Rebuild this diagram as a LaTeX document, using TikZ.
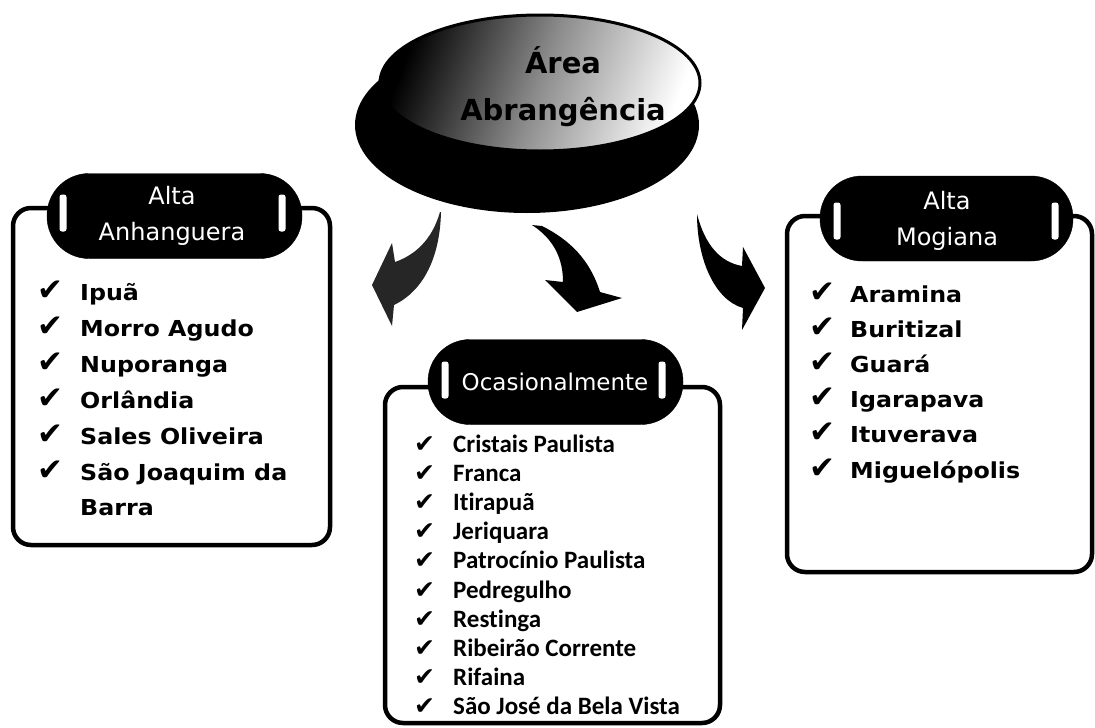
\documentclass[tikz,border=0pt]{standalone}
\usepackage{fontspec}
\setmainfont{DejaVu Sans}
\newfontfamily\hdfont{DejaVu Sans}
\newfontfamily\listfont[FakeStretch=1.08]{DejaVu Sans}
\newfontfamily\midfont[Ligatures=NoCommon]{Carlito}
\newfontfamily\chkfont{DejaVu Sans}
\begin{document}
\begin{tikzpicture}[x=1pt,y=-1pt,
  frame/.style={draw=black, line width=4.5pt, rounded corners=18pt, inner sep=0pt, outer sep=0pt},
  pill/.style={fill=black, draw=black, rounded corners=42pt, inner sep=0pt, minimum height=85pt},
  hdr/.style={text=white, font=\hdfont\fontsize{24}{36}\selectfont, align=center, inner sep=0pt},
  wbar/.style={fill=white, rounded corners=2.5pt, minimum width=7pt, minimum height=37pt, inner sep=0pt},
  item/.style={anchor=base west, inner sep=0pt, font=\listfont\bfseries\fontsize{22}{26}\selectfont},
  mitem/.style={anchor=base west, inner sep=0pt, font=\midfont\bfseries\fontsize{25}{28}\selectfont},
  ck/.style={anchor=base west, inner sep=0pt, font=\chkfont\fontsize{31}{34}\selectfont},
  mck/.style={anchor=base west, inner sep=0pt, font=\chkfont\fontsize{25}{28}\selectfont},
  blockarrow/.style={fill=black}
]
\useasboundingbox (0,0) rectangle (1095,728);
\fill[white] (0,0) rectangle (1095,728);

% ---- top disk ----
\fill[black] (527,125) ellipse [x radius=172, y radius=88];
\shade[left color=black, right color=white, middle color=black!45, shading angle=70]
  (540,83) ellipse [x radius=160, y radius=68];
\draw[black, line width=3pt] (540,83) ellipse [x radius=160, y radius=68];
\node[font=\hdfont\bfseries\fontsize{29}{47}\selectfont, align=center, text=black, inner sep=0pt]
  (title) at (563,87) {Área\\Abrangência};

% ---- arrows ----
\fill[blockarrow, black!85] (440,212) .. controls (432,240) and (415,255) .. (395,262)
  -- (392,243) -- (372,285) -- (392,326) -- (394,305)
  .. controls (425,290) and (440,255) .. (441,212) -- cycle;
\fill[blockarrow] (532,225) .. controls (555,240) and (563,260) .. (563,282)
  -- (545,280) -- (577,312) -- (622,298) -- (600,292)
  .. controls (590,260) and (570,240) .. (542,226) -- cycle;
\fill[blockarrow] (697,214) .. controls (705,245) and (720,262) .. (742,266)
  -- (743,247) -- (765,288) -- (742,330) -- (743,308)
  .. controls (715,300) and (697,260) .. (697,214) -- cycle;

% ---- frames ----
\node[frame, minimum width=317pt, minimum height=337pt] (leftbox) at (171.5,376.5) {};
\node[frame, minimum width=335pt, minimum height=336pt] (midbox) at (552.5,555) {};
\node[frame, minimum width=305pt, minimum height=356pt] (rightbox) at (939.5,394) {};

% ---- header pills ----
\node[pill, minimum width=255pt] (lpill) at (174.5,216) {};
\node[pill, minimum width=253pt] (rpill) at (946.5,218.5) {};
\node[pill, minimum width=255pt] (mpill) at (555.5,382) {};

\node[wbar] (lb1) at (63,213) {};
\node[wbar] (lb2) at (282,213) {};
\node[wbar] (rb1) at (837,221) {};
\node[wbar] (rb2) at (1055,221) {};
\node[wbar] (mb1) at (445,380) {};
\node[wbar] (mb2) at (662,380) {};

\node[hdr] (lhdr) at (172,216) {Alta\\Anhanguera};
\node[hdr] (rhdr) at (947,221) {Alta\\Mogiana};
\node[hdr, font=\hdfont\fontsize{23}{30}\selectfont] (mhdr) at (555,382) {Ocasionalmente};

% ---- left list ----
\foreach \t [count=\i from 0] in {Ipuã,Morro Agudo,Nuporanga,Orlândia,Sales Oliveira,São Joaquim da}{
  \node[ck] (lc\i) at (37,{300+36*\i}) {✔};
  \node[item] (li\i) at (80,{300+36*\i}) {\t};
}
\node[item] (li6) at (80,515) {Barra};

% ---- right list ----
\foreach \t [count=\i from 0] in {Aramina,Buritizal,Guará,Igarapava,Ituverava,Miguelópolis}{
  \node[ck] (rc\i) at (809,{302+35.2*\i}) {✔};
  \node[item] (ri\i) at (850,{302+35.2*\i}) {\t};
}

% ---- middle list ----
\foreach \t [count=\i from 0] in {Cristais Paulista,Franca,Itirapuã,Jeriquara,Patrocínio Paulista,Pedregulho,Restinga,Ribeirão Corrente,Rifaina,São José da Bela Vista}{
  \node[mck] (mc\i) at (414,{452+29.2*\i}) {✔};
  \node[mitem] (mi\i) at (453,{452+29.2*\i}) {\t};
}
\end{tikzpicture}
\end{document}
